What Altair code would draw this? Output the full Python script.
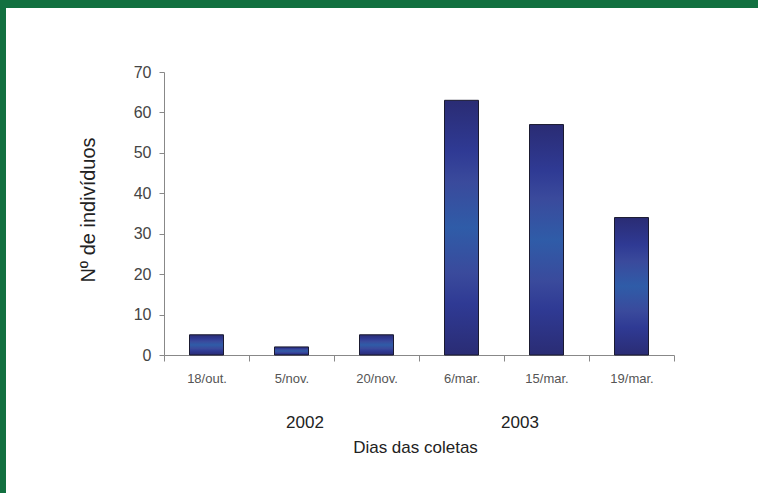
import altair as alt
import pandas as pd

dates = ["18/out.", "5/nov.", "20/nov.", "6/mar.", "15/mar.", "19/mar."]
counts = [5, 2, 5, 63, 57, 34]
years = ["2002", "2003"]
y_ticks = [0, 10, 20, 30, 40, 50, 60, 70]

df = pd.DataFrame({"data": dates, "n": counts})

W, H = 510, 283
PL, PT = 164, 72
PR, PB = 758 - PL - W, 493 - PT - H

grad = alt.LinearGradient(
    gradient="linear",
    stops=[
        alt.GradientStop(color="#2a2c74", offset=0),
        alt.GradientStop(color="#2f3a94", offset=0.2),
        alt.GradientStop(color="#3a4a9c", offset=0.32),
        alt.GradientStop(color="#2f5ca8", offset=0.5),
        alt.GradientStop(color="#3a4a9c", offset=0.68),
        alt.GradientStop(color="#2f3a94", offset=0.8),
        alt.GradientStop(color="#2a2c74", offset=1),
    ],
    x1=0, x2=0, y1=0, y2=1,
)

bars = alt.Chart(df).mark_bar(size=34, color=grad, stroke="#1a1a30", strokeWidth=1).encode(
    x=alt.X("data:N", sort=dates, scale=alt.Scale(paddingInner=0, paddingOuter=0),
            axis=alt.Axis(title="Dias das coletas", titleFont="Liberation Sans", titleFontSize=17,
                          titleFontWeight="normal", titleColor="#222", titleY=92, titleX=251,
                          titleBaseline="middle",
                          labelAngle=0, labelFont="Liberation Sans", labelFontSize=13,
                          labelColor="#555", labelPadding=11, tickBand="extent", tickSize=6,
                          tickColor="#888", domainColor="#888", grid=False)),
    y=alt.Y("n:Q", scale=alt.Scale(domain=[0, 70], nice=False),
            axis=alt.Axis(values=y_ticks, title="Nº de indivíduos", titleFont="Liberation Sans",
                          titleFontSize=20, titleFontWeight="normal", titleColor="#222",
                          titleX=-76, titleY=H / 2 - 4, titleAngle=-90, titleAlign="center",
                          titleBaseline="middle",
                          labelFont="Liberation Sans", labelFontSize=16, labelColor="#444",
                          labelPadding=8, tickSize=5, tickColor="#888", domainColor="#888",
                          grid=False)),
)

ydf = pd.DataFrame({"ano": years, "px": [141, 356]})
year_text = alt.Chart(ydf).mark_text(font="Liberation Sans", fontSize=17, color="#222",
                                     baseline="middle", align="center").encode(
    x=alt.X("px:Q", scale=None), y=alt.value(351), text="ano:N")

frame_top = alt.Chart(pd.DataFrame({"a": [0]})).mark_rect(color="#127040").encode(
    x=alt.value(-PL), x2=alt.value(W + PR), y=alt.value(-PT), y2=alt.value(-PT + 8))
frame_left = alt.Chart(pd.DataFrame({"a": [0]})).mark_rect(color="#127040").encode(
    x=alt.value(-PL), x2=alt.value(-PL + 6), y=alt.value(-PT), y2=alt.value(H + PB))

chart = alt.layer(bars, year_text, frame_top, frame_left).properties(
    width=W, height=H,
    autosize=alt.AutoSizeParams(type="none"),
    padding={"left": PL, "top": PT, "right": PR, "bottom": PB},
    background="white",
).configure_view(stroke=None)

chart.save("out.html", embed_options={"renderer": "svg", "actions": False})
